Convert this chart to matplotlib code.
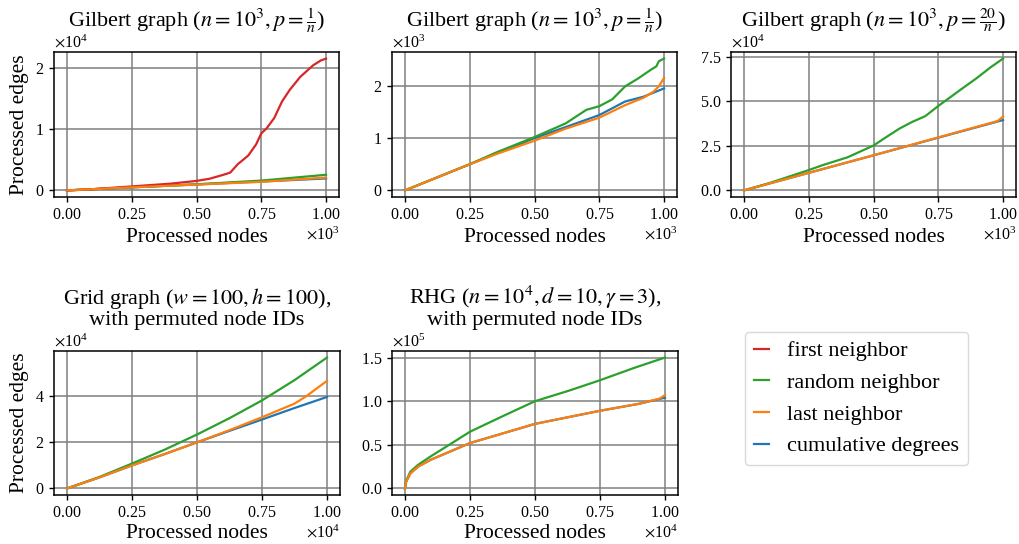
import matplotlib
matplotlib.use("Agg")
import matplotlib.pyplot as plt
import numpy as np
from matplotlib.ticker import ScalarFormatter

plt.rcParams['font.family'] = ['Liberation Serif', 'DejaVu Serif']
plt.rcParams['mathtext.fontset'] = 'stix'

C_FIRST = '#d62728'
C_RANDOM = '#2ca02c'
C_LAST = '#ff7f0e'
C_CUM = '#1f77b4'

# ---------------- data ----------------
# Panel 1: Gilbert n=1e3, p=1/n  (x: fraction of 1e3 nodes, y: 1e4 edges)
p1_first_x = [0, .1, .2, .3, .4, .5, .55, .6, .63, .66, .7, .73, .75, .77, .8, .83, .86, .9, .95, .98, 1.0]
p1_first_y = [0, .02, .05, .08, .11, .155, .19, .25, .29, .43, .57, .75, .93, 1.01, 1.18, 1.45, 1.64, 1.85, 2.04, 2.12, 2.15]
p1_random_x = [0, .25, .5, .75, 1.0]
p1_random_y = [0, .05, .1, .16, .255]
p1_last_x = [0, .25, .5, .75, 1.0]
p1_last_y = [0, .05, .095, .14, .21]
p1_cum_x = [0, .25, .5, .75, 1.0]
p1_cum_y = [0, .05, .097, .145, .195]

# Panel 2: same graph zoomed (y: 1e3 edges)
p2_random_x = [0, .1, .25, .35, .5, .62, .7, .75, .8, .85, .9, .95, .97, .98, 1.0]
p2_random_y = [0, .2, .5, .72, 1.02, 1.28, 1.54, 1.61, 1.74, 1.99, 2.14, 2.31, 2.37, 2.47, 2.52]
p2_cum_x = [0, .1, .25, .35, .5, .62, .75, .85, .92, 1.0]
p2_cum_y = [0, .2, .5, .7, 1.0, 1.21, 1.44, 1.70, 1.79, 1.95]
p2_last_x = [0, .1, .25, .35, .5, .62, .75, .85, .92, .96, .98, 1.0]
p2_last_y = [0, .2, .5, .69, .95, 1.18, 1.39, 1.63, 1.77, 1.89, 1.99, 2.15]

# Panel 3: Gilbert n=1e3, p=20/n (y: 1e4 edges)
p3_random_x = [0, .1, .25, .3, .4, .5, .55, .6, .65, .7, .75, .8, .85, .9, .95, 1.0]
p3_random_y = [0, .42, 1.14, 1.4, 1.86, 2.52, 3.0, 3.47, 3.85, 4.17, 4.74, 5.27, 5.8, 6.32, 6.89, 7.4]
p3_cum_x = [0, .5, 1.0]
p3_cum_y = [0, 1.97, 3.95]
p3_last_x = [0, .5, .98, 1.0]
p3_last_y = [0, 1.97, 3.9, 4.15]

# Panel 4: Grid graph (x: 1e4 nodes, y: 1e4 edges)
p4_random_x = [0, .125, .25, .375, .5, .625, .75, .875, 1.0]
p4_random_y = [0, .5, 1.08, 1.68, 2.34, 3.05, 3.82, 4.7, 5.68]
p4_last_x = [0, .125, .25, .375, .5, .625, .75, .875, .92, 1.0]
p4_last_y = [0, .48, 1.0, 1.49, 2.0, 2.53, 3.09, 3.68, 4.0, 4.67]
p4_cum_x = [0, .125, .25, .375, .5, .625, .75, .875, 1.0]
p4_cum_y = [0, .48, 1.0, 1.49, 2.0, 2.5, 2.99, 3.49, 3.97]

# Panel 5: RHG (x: 1e4 nodes, y: 1e5 edges)
p5_random_x = [0, .002, .005, .02, .05, .1, .17, .25, .37, .5, .63, .75, .88, 1.0]
p5_random_y = [0, .05, .09, .19, .27, .37, .5, .65, .82, 1.0, 1.12, 1.24, 1.38, 1.5]
p5_last_x = [0, .002, .005, .02, .05, .1, .25, .5, .75, .9, .98, 1.0]
p5_last_y = [0, .05, .08, .17, .25, .33, .52, .74, .89, .97, 1.03, 1.07]
p5_cum_x = [0, .002, .005, .02, .05, .1, .25, .5, .75, .9, 1.0]
p5_cum_y = [0, .05, .08, .17, .25, .33, .52, .74, .89, .97, 1.04]

titles = [
    r"Gilbert graph ($n = 10^3, p = \frac{1}{n}$)",
    r"Gilbert graph ($n = 10^3, p = \frac{1}{n}$)",
    r"Gilbert graph ($n = 10^3, p = \frac{20}{n}$)",
    "Grid graph ($w = 100, h = 100$),\nwith permuted node IDs",
    "RHG ($n = 10^4, d = 10, \\gamma = 3$),\nwith permuted node IDs",
]

# ---------------- figure ----------------
W, H = 1019, 544
fig = plt.figure(figsize=(W / 100, H / 100), dpi=100)

def px_axes(x0, y0, x1, y1):
    return fig.add_axes([x0 / W, 1 - y1 / H, (x1 - x0) / W, (y1 - y0) / H])

axes = [
    px_axes(54, 52, 339, 197),
    px_axes(392, 52, 677, 197),
    px_axes(731, 52, 1016, 197),
    px_axes(54, 351, 340, 495),
    px_axes(392, 351, 678, 495),
]

LW = 1.6

def draw(ax, series, ys_scale, yticks, xmax):
    for (x, y, c) in series:
        ax.plot(np.array(x) * xmax, np.array(y) * ys_scale, color=c, lw=LW)
    ax.set_xticks(np.array([0, .25, .5, .75, 1.0]) * xmax)
    ax.set_yticks(np.array(yticks) * ys_scale)

panels = [
    ([(p1_cum_x, p1_cum_y, C_CUM), (p1_random_x, p1_random_y, C_RANDOM), (p1_first_x, p1_first_y, C_FIRST), (p1_last_x, p1_last_y, C_LAST)], 1e4, [0, 1, 2], 1e3),
    ([(p2_cum_x, p2_cum_y, C_CUM), (p2_random_x, p2_random_y, C_RANDOM), (p2_last_x, p2_last_y, C_LAST)], 1e3, [0, 1, 2], 1e3),
    ([(p3_cum_x, p3_cum_y, C_CUM), (p3_random_x, p3_random_y, C_RANDOM), (p3_last_x, p3_last_y, C_LAST)], 1e4, [0, 2.5, 5, 7.5], 1e3),
    ([(p4_cum_x, p4_cum_y, C_CUM), (p4_random_x, p4_random_y, C_RANDOM), (p4_last_x, p4_last_y, C_LAST)], 1e4, [0, 2, 4], 1e4),
    ([(p5_cum_x, p5_cum_y, C_CUM), (p5_random_x, p5_random_y, C_RANDOM), (p5_last_x, p5_last_y, C_LAST)], 1e5, [0, .5, 1.0, 1.5], 1e4),
]

for i, (ax, (series, ysc, yt, xm)) in enumerate(zip(axes, panels)):
    draw(ax, series, ysc, yt, xm)
    ax.grid(True, color='#808080', lw=1.1)
    ax.set_axisbelow(True)
    for s in ax.spines.values():
        s.set_linewidth(1.1)
        s.set_color('black')
    ax.tick_params(labelsize=11.5, length=3.5, width=1.0)
    for axis in (ax.xaxis, ax.yaxis):
        fmt = ScalarFormatter(useMathText=True)
        fmt.set_powerlimits((0, 0))
        axis.set_major_formatter(fmt)
        axis.get_offset_text().set_fontsize(11.5)
    ax.set_title(titles[i], fontsize=16, pad=3 if i < 3 else 6, linespacing=1.0)
    ax.set_xlabel("Processed nodes", fontsize=15.5, labelpad=4 if i < 3 else 2.5)
    if i in (0, 3):
        ax.set_ylabel("Processed edges", fontsize=15.5, labelpad=4)

# legend
handles = [plt.Line2D([], [], color=c, lw=LW) for c in (C_FIRST, C_RANDOM, C_LAST, C_CUM)]
labels = ["first neighbor", "random neighbor", "last neighbor", "cumulative degrees"]
fig.legend(handles, labels, loc='upper left', bbox_to_anchor=(745 / W, 1 - 332 / H),
           borderaxespad=0, fontsize=16, handlelength=0.7, handletextpad=0.8,
           labelspacing=0.5, frameon=True, fancybox=True, edgecolor='#d0d0d0')

fig.savefig("out.png", dpi=100)
